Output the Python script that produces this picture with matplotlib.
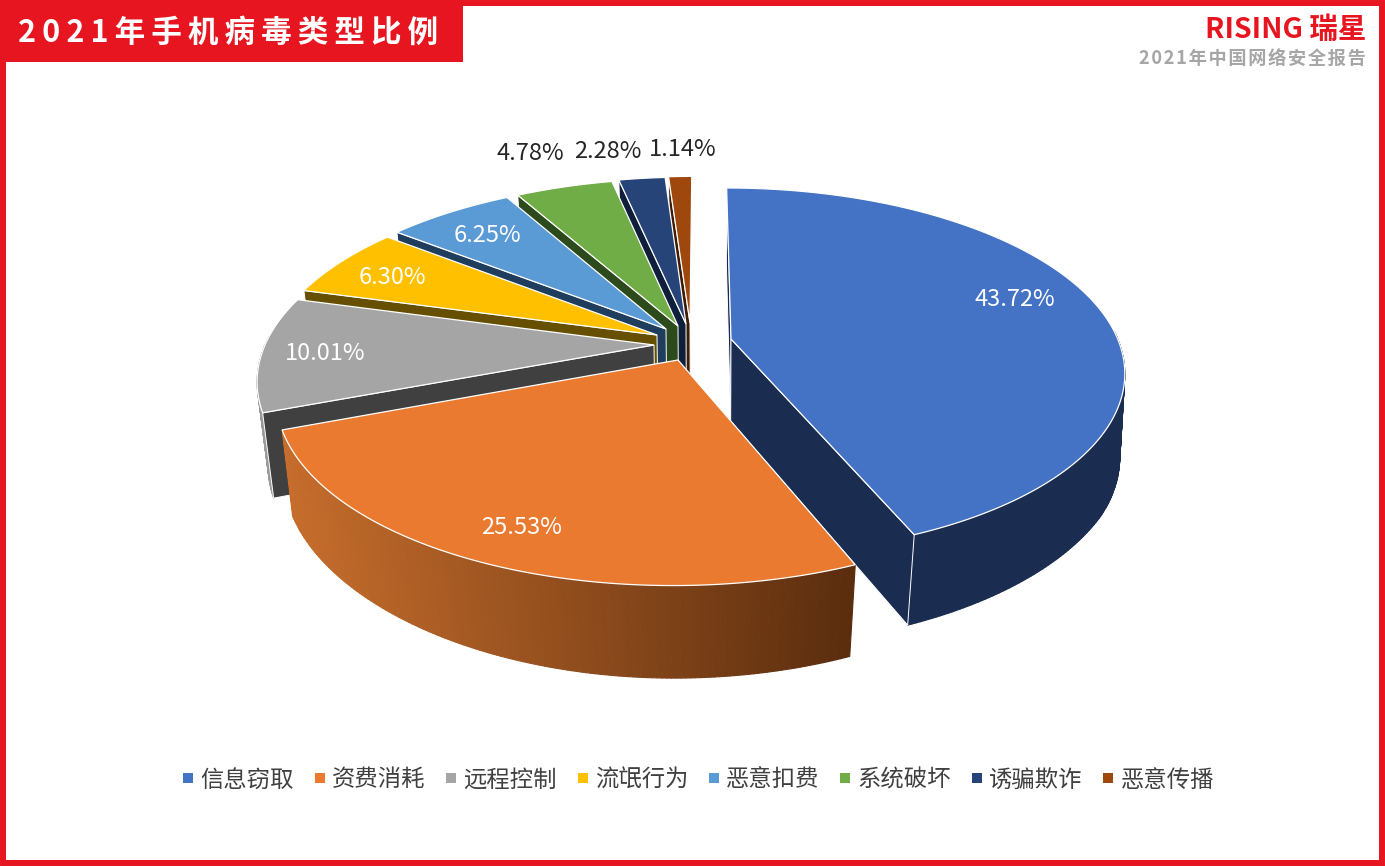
import numpy as np
import matplotlib
matplotlib.use("Agg")
import matplotlib.pyplot as plt
from matplotlib.patches import Polygon, Rectangle
from matplotlib.collections import PolyCollection
from matplotlib.lines import Line2D
from matplotlib.colors import to_rgb

plt.rcParams['font.family'] = ['Noto Sans CJK SC', 'DejaVu Sans']

# ---- data ----
categories = ["信息窃取", "资费消耗", "远程控制", "流氓行为", "恶意扣费", "系统破坏", "诱骗欺诈", "恶意传播"]
values = [43.72, 25.53, 10.01, 6.30, 6.25, 4.78, 2.28, 1.14]
value_labels = ["43.72%", "25.53%", "10.01%", "6.30%", "6.25%", "4.78%", "2.28%", "1.14%"]

# ---- style ----
top_colors = ["#4472C4", "#EA7A2F", "#A5A5A5", "#FFC000", "#5B9BD5", "#70AD47", "#264478", "#9E480E"]
wall_colors = ["#1A2C50", "#5F2F0F", "#404040", "#665000", "#1F3E5E", "#2D4A1C", "#0F1E3A", "#3F1C04"]
rim_colors = ["#1A2C50", "#5F2F0F", "#9A9A9A", "#665000", "#1F3E5E", "#2D4A1C", "#0F1E3A", "#3F1C04"]
rim_left = "#C66D2C"
rim_right = "#5A2D0E"
RED = "#E71520"

# ---- layout (pixels) ----
apex_x = [731, 678, 654, 657, 666, 678, 686, 690]
apex_y = [339, 360, 345, 335, 329, 326, 324, 323]
label_x = [1015, 522, 325, 392, 487, 530, 608, 683]
label_y = [300, 527, 354, 278, 235, 154, 151, 149]
label_col = ["white"] * 5 + ["#262626"] * 3
draw_order = [7, 6, 5, 4, 3, 2, 0, 1]
CX, CY, RX, RY, P = 702.0, 345.0, 389.0, 179.7, 0.177


def unproject(x, y):
    xp, yp = (x - CX) / RX, (CY - y) / RY
    Y = yp / (1 - P * yp)
    return xp * (1 + P * Y), Y


def project(X, Y):
    w = 1 + P * Y
    return CX + RX * X / w, CY - RY * Y / w


def lower(x, y):
    side = np.where(x < CX, 0.025, 0.012)
    shift = (x - CX) * (side + 0.00018 * np.maximum(y - 430, 0))
    return x - shift, y + 86 + 0.042 * (y - 430)


fig = plt.figure(figsize=(13.85, 8.66), dpi=100, facecolor="white")
ax = fig.add_axes([0, 0, 1, 1])
ax.set_xlim(0, 1385)
ax.set_ylim(866, 0)
ax.axis("off")

edges = np.concatenate([[0], np.cumsum(values)]) / np.sum(values) * 2 * np.pi

for i in draw_order:
    ox, oy = unproject(apex_x[i], apex_y[i])
    th = np.linspace(edges[i], edges[i + 1], max(8, int(values[i] * 6)))
    ax_, ay_ = project(ox, oy)
    tx, ty = project(ox + np.sin(th), oy + np.cos(th))
    bx, by = lower(tx, ty)
    lax, lay = lower(ax_, ay_)
    # outer rim, as strips, front-facing part only
    front = [j for j in range(len(th) - 1) if np.cos(th[j]) + np.cos(th[j + 1]) < 0.1]
    quads = [[(tx[j], ty[j]), (tx[j + 1], ty[j + 1]), (bx[j + 1], by[j + 1]), (bx[j], by[j])] for j in front]
    if i == 1:
        c0, c1 = np.array(to_rgb(rim_left)), np.array(to_rgb(rim_right))
        f = [((tx[j] + tx[j + 1]) / 2 - tx.min()) / (tx.max() - tx.min()) for j in front]
        cols = [tuple(c0 + (c1 - c0) * v) for v in f]
    else:
        cols = [rim_colors[i]] * len(quads)
    if quads:
        ax.add_collection(PolyCollection(quads, facecolors=cols, edgecolors=cols, linewidths=0.8, zorder=2))
    # cut faces: those facing the viewer (the first slice shows both, the second none)
    order = sorted((0, -1), key=lambda n: ty[n])
    faces = order if i == 0 else ([] if i == 1 else order[-1:])
    for k in faces:
        ax.add_patch(Polygon([(ax_, ay_), (tx[k], ty[k]), (bx[k], by[k]), (lax, lay)],
                             closed=True, fc=wall_colors[i], ec="white", lw=0.7, zorder=2))
    # top face
    pts = [(ax_, ay_)] + list(zip(tx, ty))
    ax.add_patch(Polygon(pts, closed=True, fc=top_colors[i], ec="white", lw=0.9, zorder=2))

for i in range(len(values)):
    ax.text(label_x[i], label_y[i], value_labels[i], color=label_col[i], fontsize=17,
            ha="center", va="center", zorder=5)

# frame and header
ax.add_patch(Rectangle((3, 3), 1379, 860, fc="none", ec=RED, lw=4.3, zorder=6))
ax.add_patch(Rectangle((0, 0), 463, 62, fc=RED, ec="none", zorder=6))
thin = "\u2009"
hair = "\u200a"
ax.text(18, 33, thin.join("2021年手机病毒类型比例"), color="white", fontsize=22, fontweight="bold",
        ha="left", va="center", zorder=7)
ax.text(1366, 30, "RISING 瑞星", color=RED, fontsize=20.5, fontweight="black",
        ha="right", va="center", zorder=7)
ax.text(1366, 59, hair.join("2021年中国网络安全报告"), color="#A6A6A6", fontsize=13.1, fontweight="bold",
        ha="right", va="center", zorder=7)

# legend
handles = [Line2D([], [], ls="none", marker="s", ms=7.2, mfc=c, mec=c, mew=0) for c in top_colors]
ax.legend(handles, categories, ncol=8, loc="center", bbox_to_anchor=(698.5 / 1385, 1 - 780 / 866),
          bbox_transform=fig.transFigure, frameon=False, fontsize=16.8, labelcolor="#404040",
          handlelength=0.45, handletextpad=0.3, columnspacing=0.875, borderpad=0, borderaxespad=0)

fig.savefig("out.png", dpi=100, facecolor="white")
